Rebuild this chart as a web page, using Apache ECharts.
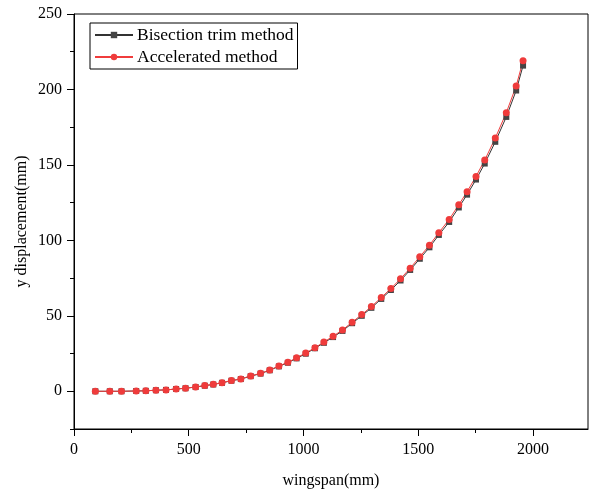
<!DOCTYPE html>
<html>
<head>
<meta charset="utf-8">
<script src="https://cdn.jsdelivr.net/npm/echarts@6/dist/echarts.min.js"></script>
<style>
  html, body { margin: 0; padding: 0; background: #fff; }
  #chart { width: 589px; height: 494px; }
</style>
</head>
<body>
<div id="chart"></div>
<script>
// wingspan (mm)
const wingspan = [93, 156, 207, 271, 313, 357, 401, 445, 486, 530, 570, 607, 645, 686, 727, 770, 813, 853, 893, 932,
    970, 1010, 1050, 1089, 1129, 1170, 1212, 1254, 1296, 1339, 1381, 1423, 1465, 1507, 1549, 1590, 1635, 1677, 1713, 1752,
    1790, 1836, 1884, 1927, 1957];
// y displacement (mm)
const bisection = [0, 0, 0, 0.2, 0.3, 0.7, 0.9, 1.5, 2.0, 2.8, 3.7, 4.5, 5.6, 7.0, 8.1, 10.0, 11.7, 13.9, 16.5, 18.9,
    21.8, 24.9, 28.5, 32.1, 35.9, 40.0, 45.1, 50.0, 55.3, 61.2, 67.1, 73.4, 80.4, 87.8, 95.4, 103.6, 112.2, 121.8, 130.3, 140.3,
    150.9, 165.3, 181.8, 199.3, 215.8];
const accelerated = [0, 0, 0, 0.2, 0.3, 0.7, 0.9, 1.5, 2.0, 2.9, 3.8, 4.6, 5.7, 7.1, 8.2, 10.2, 11.9, 14.1, 16.8, 19.2,
    22.2, 25.3, 28.9, 32.6, 36.5, 40.6, 45.8, 50.8, 56.1, 62.1, 68.1, 74.5, 81.6, 89.1, 96.8, 105.1, 113.9, 123.6, 132.2, 142.4,
    153.2, 167.8, 184.6, 202.3, 219.0];
// tick labels
const xMajor = [0, 500, 1000, 1500, 2000];
const xMinor = [250, 750, 1250, 1750];
const yMajor = [0, 50, 100, 150, 200, 250];
const yMinor = [-25, 25, 75, 125, 175, 225];

const font = 'Liberation Serif';
const chart = echarts.init(document.getElementById('chart'));

const pairs = (ys) => wingspan.map((x, i) => [x, ys[i]]);

chart.setOption({
    backgroundColor: '#ffffff',
    animation: false,
    grid: {
        left: 74, top: 14, right: 1, bottom: 65,
        show: true, borderColor: '#000', borderWidth: 1
    },
    legend: {
        orient: 'vertical',
        left: 90, top: 23,
        padding: [3, 4, 3, 4],
        itemGap: 4,
        itemWidth: 38,
        itemHeight: 8,
        borderColor: '#000',
        borderWidth: 1,
        textStyle: { fontFamily: font, fontSize: 17.5, color: '#000', padding: [0, 0, 0, -1] },
        data: ['Bisection trim method', 'Accelerated method']
    },
    xAxis: [{
        type: 'value',
        min: 0, max: 2240,
        name: 'wingspan(mm)',
        nameLocation: 'middle',
        nameGap: 44,
        nameMoveOverlap: false,
        nameTextStyle: { fontFamily: font, fontSize: 16, color: '#000' },
        axisLine: { onZero: false, lineStyle: { color: '#000', width: 1 } },
        axisTick: { length: 7, customValues: xMajor, lineStyle: { color: '#000' } },
        axisLabel: { fontFamily: font, fontSize: 16, color: '#000', margin: 13, customValues: xMajor, formatter: v => String(v) },
        splitLine: { show: false }
    }, {
        type: 'value',
        position: 'bottom',
        min: 0, max: 2240,
        axisLine: { show: false, onZero: false },
        axisTick: { show: true, length: 4, customValues: xMinor, lineStyle: { color: '#000' } },
        axisLabel: { show: false },
        splitLine: { show: false }
    }],
    yAxis: [{
        type: 'value',
        min: -25, max: 250,
        name: 'y displacement(mm)',
        nameLocation: 'middle',
        nameGap: 44,
        nameMoveOverlap: false,
        nameTextStyle: { fontFamily: font, fontSize: 16, color: '#000' },
        axisLine: { show: true, onZero: false, lineStyle: { color: '#000', width: 1 } },
        axisTick: { show: true, length: 7, customValues: yMajor, lineStyle: { color: '#000' } },
        axisLabel: { fontFamily: font, fontSize: 16, color: '#000', margin: 12, customValues: yMajor },
        splitLine: { show: false }
    }, {
        type: 'value',
        position: 'left',
        min: -25, max: 250,
        axisLine: { show: false, onZero: false },
        axisTick: { show: true, length: 4, customValues: yMinor, lineStyle: { color: '#000' } },
        axisLabel: { show: false },
        splitLine: { show: false }
    }],
    series: [{
        name: 'Bisection trim method',
        type: 'line',
        data: pairs(bisection),
        symbol: 'rect',
        symbolSize: 6,
        lineStyle: { color: '#333', width: 1 },
        itemStyle: { color: '#444' }
    }, {
        name: 'Accelerated method',
        type: 'line',
        data: pairs(accelerated),
        symbol: 'circle',
        symbolSize: 7,
        lineStyle: { color: '#f03c3c', width: 1 },
        itemStyle: { color: '#ef3b3b' }
    }]
});
</script>
</body>
</html>
